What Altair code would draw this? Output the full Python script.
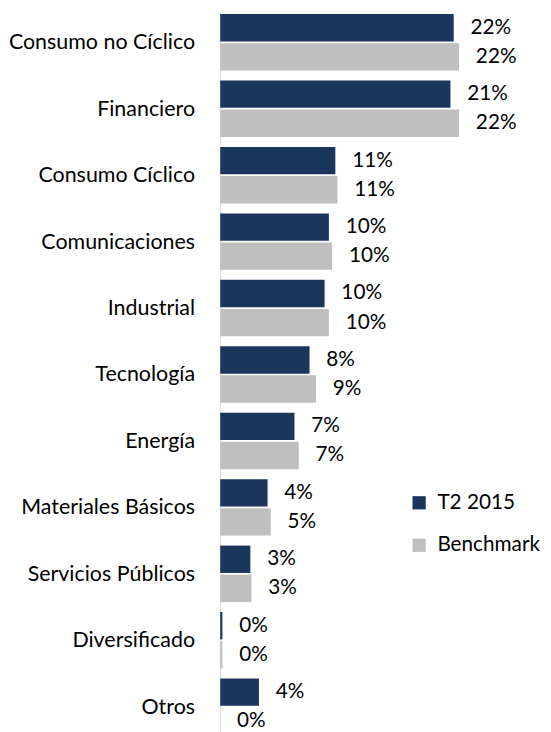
import altair as alt
import pandas as pd

categories = ["Consumo no Cíclico", "Financiero", "Consumo Cíclico", "Comunicaciones",
              "Industrial", "Tecnología", "Energía", "Materiales Básicos",
              "Servicios Públicos", "Diversificado", "Otros"]
series = ["T2 2015", "Benchmark"]
t2_2015 = [21.7, 21.4, 10.7, 10.1, 9.7, 8.3, 6.9, 4.4, 2.8, 0.2, 3.6]
benchmark = [22.2, 22.2, 10.9, 10.4, 10.1, 8.9, 7.3, 4.7, 2.9, 0.2, 0.0]
colors = ["#1b365d", "#bfbfbf"]

rows = []
for c, a, b in zip(categories, t2_2015, benchmark):
    rows.append({"cat": c, "serie": series[0], "val": a})
    rows.append({"cat": c, "serie": series[1], "val": b})
df = pd.DataFrame(rows)

FONT = "Lato"

y = alt.Y("cat:N", sort=categories, title=None,
          scale=alt.Scale(paddingInner=0.15, paddingOuter=0.02),
          axis=alt.Axis(labelFontSize=21.7, labelFont=FONT, labelColor="#000000",
                        labelPadding=26, ticks=False, domainColor="#d9d9d9",
                        domainWidth=1, grid=False, labelLimit=300))
yoff = alt.YOffset("serie:N", sort=series, scale=alt.Scale(paddingInner=0.06))
x = alt.X("val:Q", axis=None, scale=alt.Scale(domain=[0, 30]))

bars = alt.Chart(df).mark_bar().encode(
    y=y, yOffset=yoff, x=x,
    color=alt.Color("serie:N", sort=series,
                    scale=alt.Scale(domain=series, range=colors),
                    legend=alt.Legend(title=None, orient="none", legendX=191, legendY=486,
                                      symbolType="square", symbolSize=180,
                                      symbolStrokeWidth=0,
                                      labelFontSize=21, labelFont=FONT,
                                      labelColor="#000000", rowPadding=21,
                                      labelOffset=8)),
)

text = alt.Chart(df).transform_calculate(
    lbl="format(datum.val, '.0f') + '%'"
).mark_text(align="left", baseline="middle", dx=17, fontSize=21, font=FONT,
            color="#000000").encode(
    y=y, yOffset=yoff, x=x, text="lbl:N"
)

chart = (bars + text).properties(
    width=327, height=733, padding={"left": 0, "top": 0, "right": 0, "bottom": 0}
).configure_view(stroke=None)

chart.save("out.html", embed_options={"renderer": "svg", "actions": False})
